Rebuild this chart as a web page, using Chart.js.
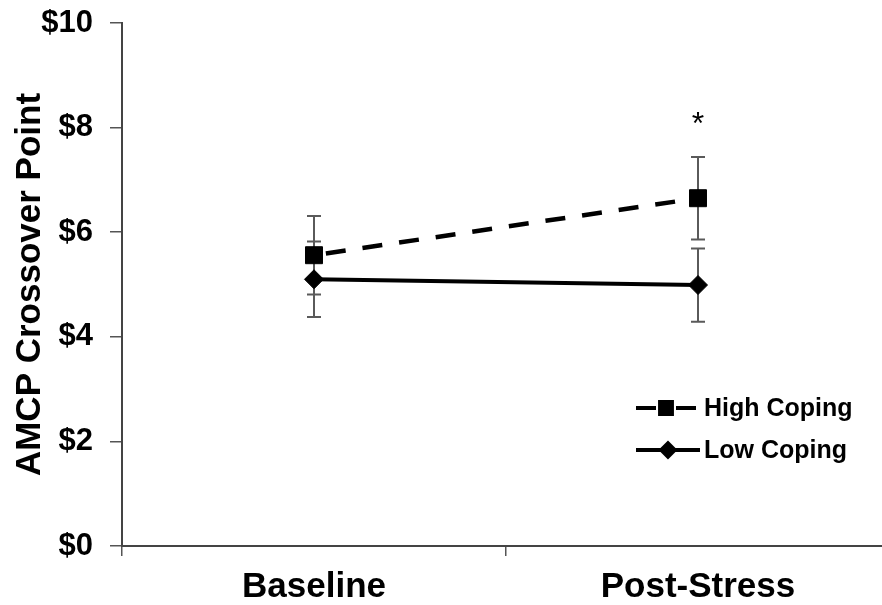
<!DOCTYPE html>
<html>
<head>
<meta charset="utf-8">
<script src="https://cdn.jsdelivr.net/npm/chart.js@4.4.1/dist/chart.umd.min.js"></script>
<style>
  html, body { margin: 0; padding: 0; background: #fff; overflow: hidden; }
  #wrap { width: 890px; height: 605px; position: relative; }
  canvas { display: block; }
</style>
</head>
<body>
<div id="wrap"><canvas id="crossChart"></canvas></div>
<script>
const categories = ["Baseline", "Post-Stress"];

const highCoping = [5.56, 6.65];
const highErr = [0.75, 0.79];

const lowCoping = [5.10, 4.99];
const lowErr = [0.72, 0.70];

const significance = ["", "*"];

const yTicks = [0, 2, 4, 6, 8, 10];

const FONT = "'Liberation Sans', Arial, sans-serif";

const errorBars = {
  id: "errorBars",
  beforeDatasetsDraw(chart) {
    const ctx = chart.ctx;
    const y = chart.scales.y;
    const errs = [highErr, lowErr];
    ctx.save();
    ctx.strokeStyle = "#5a5a5a";
    ctx.lineWidth = 2;
    chart.data.datasets.forEach((ds, i) => {
      chart.getDatasetMeta(i).data.forEach((pt, j) => {
        const top = y.getPixelForValue(ds.data[j] + errs[i][j]);
        const bot = y.getPixelForValue(ds.data[j] - errs[i][j]);
        ctx.beginPath();
        ctx.moveTo(pt.x, top);
        ctx.lineTo(pt.x, bot);
        ctx.moveTo(pt.x - 7, top);
        ctx.lineTo(pt.x + 7, top);
        ctx.moveTo(pt.x - 7, bot);
        ctx.lineTo(pt.x + 7, bot);
        ctx.stroke();
      });
    });
    ctx.restore();
  }
};

const extras = {
  id: "extras",
  afterDraw(chart) {
    const ctx = chart.ctx;
    const y = chart.scales.y;
    const meta = chart.getDatasetMeta(0);

    // significance marks
    ctx.save();
    ctx.fillStyle = "#000";
    ctx.font = "32px " + FONT;
    ctx.textAlign = "center";
    ctx.textBaseline = "middle";
    significance.forEach((s, j) => {
      if (!s) return;
      const top = y.getPixelForValue(highCoping[j] + highErr[j]);
      ctx.fillText(s, meta.data[j].x, top - 32);
    });

    // legend inside plot
    const lx = 636;
    const rows = [408, 450];
    ctx.font = "bold 25px " + FONT;
    ctx.textAlign = "left";
    chart.data.datasets.forEach((ds, i) => {
      const ly = rows[i];
      const dashed = !!ds.borderDash;
      const len = dashed ? 60 : 64;
      ctx.strokeStyle = "#000";
      ctx.lineWidth = 4;
      ctx.setLineDash(dashed ? [20, 20] : []);
      ctx.beginPath();
      ctx.moveTo(lx, ly);
      ctx.lineTo(lx + len, ly);
      ctx.stroke();
      ctx.setLineDash([]);
      Chart.helpers.drawPoint(ctx, {
        pointStyle: ds.pointStyle,
        radius: ds.pointRadius * 0.7,
        borderWidth: 1
      }, lx + len / 2, ly);
      ctx.fillStyle = "#000";
      ctx.fillText(ds.label, lx + 68, ly + 1);
    });
    ctx.restore();
  }
};

new Chart(document.getElementById("crossChart"), {
  type: "line",
  data: {
    labels: categories,
    datasets: [
      {
        label: "High Coping",
        data: highCoping,
        borderColor: "#000",
        backgroundColor: "#000",
        borderWidth: 4.5,
        borderDash: [20, 17],
        borderDashOffset: -12,
        pointStyle: "rect",
        pointRadius: 12,
        pointBorderWidth: 1,
        fill: false
      },
      {
        label: "Low Coping",
        data: lowCoping,
        borderColor: "#000",
        backgroundColor: "#000",
        borderWidth: 4,
        pointStyle: "rectRot",
        pointRadius: 9.5,
        pointBorderWidth: 1,
        fill: false
      }
    ]
  },
  options: {
    responsive: true,
    maintainAspectRatio: false,
    animation: false,
    layout: {
      autoPadding: false,
      padding: { top: 23, right: 0, left: 0, bottom: 0 }
    },
    plugins: {
      legend: { display: false },
      tooltip: { enabled: false }
    },
    scales: {
      x: {
        offset: true,
        grid: {
          offset: true,
          drawOnChartArea: false,
          tickLength: 10,
          color: "#555",
          lineWidth: 1.5
        },
        border: { color: "#444", width: 2 },
        ticks: {
          color: "#000",
          padding: 10,
          font: { family: FONT, size: 35, weight: "bold" }
        },
        afterFit(scale) { scale.height = 59; }
      },
      y: {
        min: 0,
        max: 10,
        afterBuildTicks(scale) {
          scale.ticks = yTicks.map(v => ({ value: v }));
        },
        grid: {
          drawOnChartArea: false,
          tickLength: 12,
          color: "#555",
          lineWidth: 1.5
        },
        border: { color: "#444", width: 2 },
        ticks: {
          color: "#000",
          padding: 17,
          font: { family: FONT, size: 31, weight: "bold", lineHeight: 0.3 },
          callback: v => "$" + v
        },
        title: {
          display: true,
          text: "AMCP Crossover Point",
          color: "#000",
          padding: { top: 9, bottom: 0 },
          font: { family: FONT, size: 35, weight: "bold" }
        },
        afterFit(scale) { scale.width = 122; }
      }
    }
  },
  plugins: [errorBars, extras]
});
</script>
</body>
</html>
